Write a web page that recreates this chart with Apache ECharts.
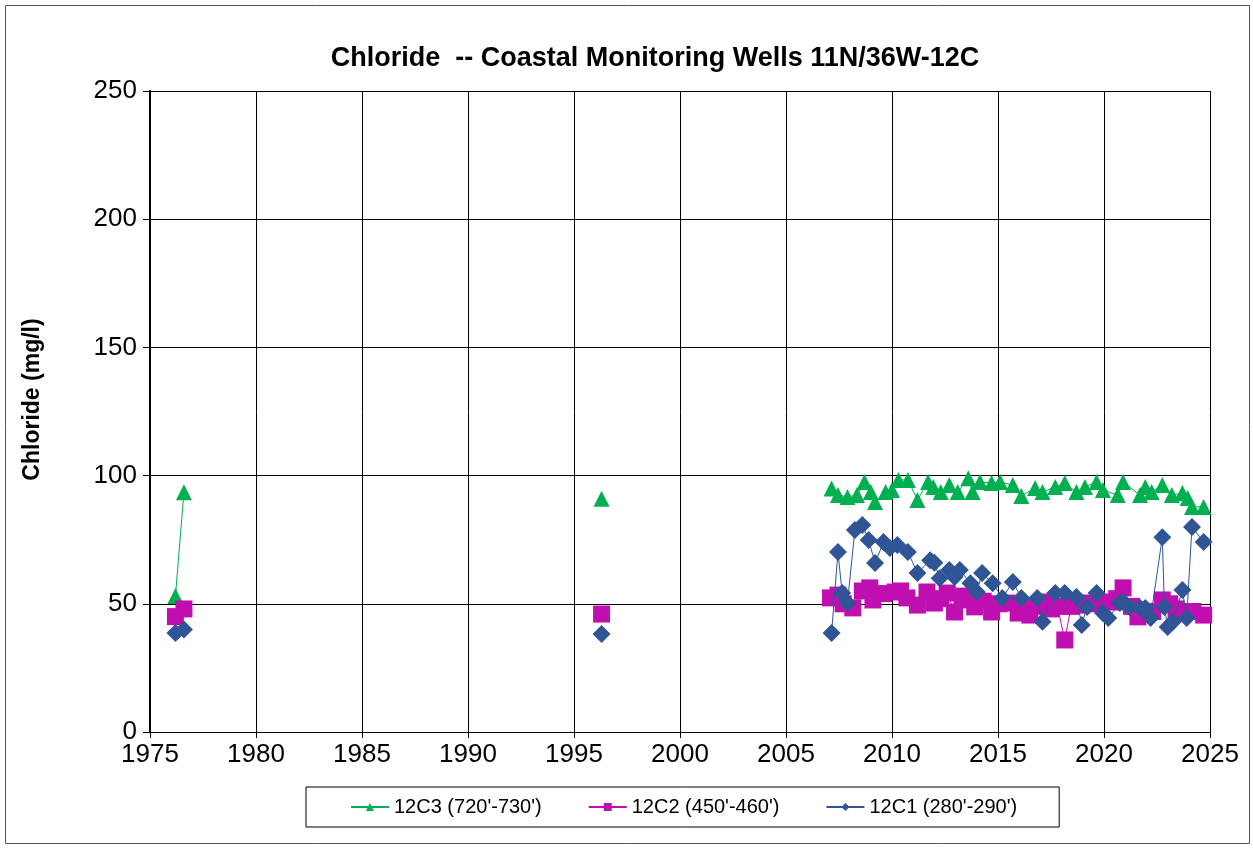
<!DOCTYPE html>
<html>
<head>
<meta charset="utf-8">
<script src="https://cdn.jsdelivr.net/npm/echarts@6/dist/echarts.min.js"></script>
<style>
    html, body { margin: 0; padding: 0; background: #fff; }
    #chart { width: 1253px; height: 848px; }
</style>
</head>
<body>
<div id="chart"></div>
<script>
// sample dates (decimal years) and chloride values, null = break in the line
const c3Years = [1976.2, 1976.6, 1986, 1996.3, 2001,
    2007.15, 2007.45, 2007.9, 2008.35, 2008.7, 2009.0, 2009.2, 2009.7, 2010.0, 2010.3,
    2010.75, 2011.2, 2011.7, 2011.95, 2012.3, 2012.7, 2013.1, 2013.6, 2013.8, 2014.15,
    2014.7, 2015.1, 2015.7, 2016.1, 2016.75, 2017.1, 2017.7, 2018.15, 2018.7, 2019.1,
    2019.65, 2019.95, 2020.65, 2020.9, 2021.7, 2021.95, 2022.25, 2022.75, 2023.2, 2023.7,
    2023.95, 2024.15, 2024.7]
const c3Values = [53, 93.5, null, 91, null,
    95, 92.4, 91.7, 92.4, 97.5, 93.6, 89.7, 93.6, 94.4, 98.3,
    98.3, 90.5, 97.5, 95.6, 93.6, 96.3, 93.6, 99, 93.6, 97.5,
    97.1, 97.5, 96.3, 92, 95.2, 93.6, 95.6, 97.1, 93.6, 95.6,
    97.5, 94.4, 92.4, 97.5, 92.4, 95.6, 93.6, 96.3, 92.4, 93.2,
    91.3, 87.8, 87.8]

const c2Years = [1976.2, 1976.6, 1986, 1996.3, 2001,
    2007.1, 2007.45, 2007.7, 2008.15, 2008.6, 2008.95, 2009.1, 2009.6, 2010.15, 2010.4,
    2010.7, 2011.2, 2011.65, 2012.0, 2012.3, 2012.6, 2012.95, 2013.3, 2013.55, 2013.9,
    2014.3, 2014.7, 2015.05, 2015.4, 2015.95, 2016.2, 2016.5, 2016.85, 2017.1, 2017.5,
    2017.8, 2018.15, 2018.45, 2018.7, 2019.0, 2019.3, 2019.8, 2020.3, 2020.6, 2020.9,
    2021.3, 2021.6, 2021.95, 2022.3, 2022.75, 2023.1, 2023.4, 2023.75, 2024.2, 2024.7]
const c2Values = [45, 48, null, 46, null,
    52.3, 53.4, 50, 48.4, 55, 56.2, 51.5, 54, 54.6, 55,
    52.3, 49.5, 54.6, 50.3, 52, 54.2, 46.8, 53, 51.5, 48.8,
    51, 46.8, 50, 50.3, 46.4, 48.8, 45.6, 49, 50.7, 48,
    49, 35.9, 49, 49.5, 50, 50.3, 50, 50.7, 52, 56.2,
    49, 44.9, 46.4, 47, 51.5, 50, 48, 46.4, 47, 45.6]

const c1Years = [1976.2, 1976.6, 1986, 1996.3, 2001,
    2007.15, 2007.45, 2007.65, 2007.9, 2008.25, 2008.6, 2008.9, 2009.2, 2009.6, 2009.9,
    2010.25, 2010.75, 2011.2, 2011.8, 2012.0, 2012.25, 2012.7, 2012.95, 2013.2, 2013.7,
    2014.0, 2014.25, 2014.75, 2015.2, 2015.7, 2016.1, 2016.85, 2017.1, 2017.7, 2018.15,
    2018.7, 2018.95, 2019.2, 2019.65, 2019.95, 2020.2, 2020.75, 2020.9, 2021.2, 2021.7,
    2021.95, 2022.2, 2022.75, 2022.85, 2023.0, 2023.25, 2023.7, 2023.9, 2024.15, 2024.7]
const c1Values = [38.6, 40, null, 38.2, null,
    38.6, 70.2, 54.2, 50.3, 78.8, 80.7, 74.9, 65.9, 74.1, 71.8,
    72.9, 70.2, 62, 67, 66, 60, 63.2, 60.5, 63.2, 58,
    54.6, 62, 58, 52.3, 58.5, 52.3, 52.3, 43, 54.2, 54.2,
    52.7, 41.7, 48.8, 54.2, 46.4, 44.5, 50.3, 50.7, 48.8, 48.4,
    48.4, 44.5, 76, 48.8, 41, 43, 55.4, 44.5, 80, 74.1]

const xTicks = { min: 1975, max: 2025, step: 5 }
const yTicks = { min: 0, max: 250, step: 50 }

const font = 'Liberation Sans, Arial, sans-serif'

function pairs(xs, ys) {
    return xs.map((x, i) => [x, ys[i] === null ? '-' : ys[i]])
}

const chart = echarts.init(document.getElementById('chart'))
chart.setOption({
    animation: false,
    backgroundColor: '#fff',
    textStyle: { fontFamily: font, color: '#000' },
    title: {
        text: 'Chloride  -- Coastal Monitoring Wells 11N/36W-12C',
        left: 650,
        top: 40,
        textAlign: 'center',
        textStyle: { fontSize: 27, fontWeight: 'bold', fontFamily: font, color: '#000' },
    },
    graphic: [{
        type: 'rect',
        shape: { x: 5.5, y: 5.5, width: 1244, height: 838 },
        style: { fill: 'none', stroke: '#555', lineWidth: 1 },
        silent: true,
    }],
    grid: { left: 150, right: 43, top: 91, bottom: 116 },
    legend: {
        left: 306,
        top: 787,
        padding: [10, 42, 10, 44],
        borderColor: '#000',
        borderWidth: 1,
        itemWidth: 38,
        itemHeight: 10,
        itemGap: 46,
        textStyle: { fontSize: 20, fontFamily: font, color: '#000' },
        data: ["12C3 (720'-730')", "12C2 (450'-460')", "12C1 (280'-290')"],
    },
    xAxis: {
        type: 'value',
        min: xTicks.min,
        max: xTicks.max,
        interval: xTicks.step,
        axisLine: { lineStyle: { color: '#000', width: 1 } },
        axisTick: { show: true, length: 6, lineStyle: { color: '#000' } },
        axisLabel: { fontSize: 26, color: '#000', margin: 10, fontFamily: font, formatter: v => String(v) },
        splitLine: { show: true, lineStyle: { color: '#000', width: 1 } },
    },
    yAxis: {
        type: 'value',
        min: yTicks.min,
        max: yTicks.max,
        interval: yTicks.step,
        name: 'Chloride (mg/l)',
        nameLocation: 'middle',
        nameGap: 106,
        nameTextStyle: { fontSize: 23, fontWeight: 'bold', color: '#000', fontFamily: font, padding: [0, 0, 0, 24] },
        axisLine: { show: true, lineStyle: { color: '#000', width: 2 } },
        axisTick: { show: true, length: 7, lineStyle: { color: '#000' } },
        axisLabel: { fontSize: 26, color: '#000', margin: 13, fontFamily: font },
        splitLine: { show: true, lineStyle: { color: '#000', width: 1 } },
    },
    series: [
        {
            name: "12C3 (720'-730')",
            type: 'line',
            data: pairs(c3Years, c3Values),
            connectNulls: false,
            symbol: 'triangle',
            symbolSize: 16,
            itemStyle: { color: '#00B050' },
            lineStyle: { color: '#00B050', width: 1 },
            z: 3,
        },
        {
            name: "12C2 (450'-460')",
            type: 'line',
            data: pairs(c2Years, c2Values),
            connectNulls: false,
            symbol: 'rect',
            symbolSize: 17,
            itemStyle: { color: '#C00FB0' },
            lineStyle: { color: '#C00FB0', width: 1 },
            z: 4,
        },
        {
            name: "12C1 (280'-290')",
            type: 'line',
            data: pairs(c1Years, c1Values),
            connectNulls: false,
            symbol: 'diamond',
            symbolSize: 18,
            itemStyle: { color: '#2F5597' },
            lineStyle: { color: '#2F5597', width: 1 },
            z: 5,
        },
    ],
})
</script>
</body>
</html>
